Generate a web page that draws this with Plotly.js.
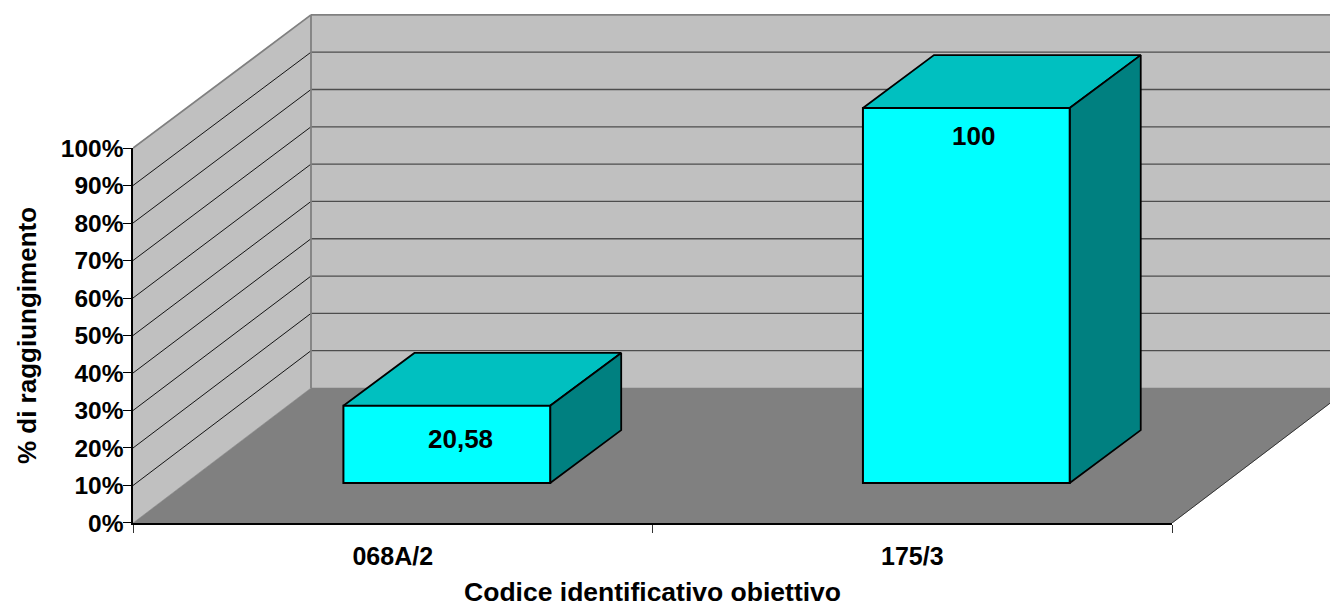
<!DOCTYPE html>
<html><head><meta charset="utf-8">
<script src="https://cdn.plot.ly/plotly-3.0.1.min.js"></script>
<style>html,body{margin:0;padding:0;background:#fff;overflow:hidden}#chart{width:1330px;height:607px}</style>
</head><body><div id="chart"></div>
<script>
// Data
var categories = ['068A/2', '175/3'];
var values = [20.58, 100];
var valueLabels = ['20,58', '100'];
var percentTicks = [0, 10, 20, 30, 40, 50, 60, 70, 80, 90, 100];
var percentTickLabels = ['0%', '10%', '20%', '30%', '40%', '50%', '60%', '70%', '80%', '90%', '100%'];
var xTitle = 'Codice identificativo obiettivo';
var yTitle = '% di raggiungimento';

// Oblique projection, in axis units
var X_MAX = 2.304, Y_MAX = 139.47;
var DEPTH_X = 0.3426, DEPTH_Y = 36, BACK_SCALE = 0.995;
var BAR_WIDTH = 0.398, BAR_SHIFT = 0.104, BAR_BASE = 10.67;
var BAR_DEPTH_X = 0.1367, BAR_DEPTH_Y = 14.1;
var LABEL_DX = [0.026, 0.0145], LABEL_DY = [8.8, 7.4];
var FONT = 'Liberation Sans, Arial, sans-serif';

function poly(xs, ys, fill, line, width) {
  return {type: 'scatter', mode: 'lines', x: xs.concat(xs[0]), y: ys.concat(ys[0]), fill: 'toself', fillcolor: fill,
    line: {color: line || fill, width: width === undefined ? 0.5 : width}, hoverinfo: 'skip', showlegend: false};
}
function lines(segments, color, width) {
  var xs = [], ys = [];
  segments.forEach(function (s) { xs.push(s[0], s[2], null); ys.push(s[1], s[3], null); });
  return {type: 'scatter', mode: 'lines', x: xs, y: ys, line: {color: color, width: width}, hoverinfo: 'skip', showlegend: false};
}
var backFar = X_MAX + 1;
var backTop = 100 * BACK_SCALE + DEPTH_Y;
var traces = [
  poly([DEPTH_X, backFar, backFar, DEPTH_X], [DEPTH_Y, DEPTH_Y, backTop, backTop], '#C0C0C0'),
  poly([0, DEPTH_X, DEPTH_X, 0], [0, DEPTH_Y, backTop, 100], '#C0C0C0'),
  poly([0, 2, 2 + DEPTH_X, DEPTH_X], [0, 0, DEPTH_Y, DEPTH_Y], '#808080')
];
var inner = percentTicks.filter(function (t) { return t > 0 && t < 100; });
traces.push(lines(inner.map(function (t) { return [0, t, DEPTH_X, t * BACK_SCALE + DEPTH_Y]; }), '#000000', 0.9));
traces.push(lines(inner.map(function (t) { return [DEPTH_X, t * BACK_SCALE + DEPTH_Y, backFar, t * BACK_SCALE + DEPTH_Y]; }), '#4d4d4d', 1.3));
traces.push(lines([[0, 100, DEPTH_X, backTop], [DEPTH_X, backTop, backFar, backTop], [DEPTH_X, DEPTH_Y, DEPTH_X, backTop]], '#808080', 1.8));
traces.push(lines([[2, 0, 2 + DEPTH_X, DEPTH_Y]], '#333333', 1));

// Top and side faces of each bar, from its value
categories.forEach(function (c, i) {
  var left = i + 0.5 + BAR_SHIFT - BAR_WIDTH / 2, right = left + BAR_WIDTH;
  var top = BAR_BASE + values[i];
  traces.push(poly([left, right, right + BAR_DEPTH_X, left + BAR_DEPTH_X],
    [top, top, top + BAR_DEPTH_Y, top + BAR_DEPTH_Y], '#00C0C0', '#000000', 1.8));
  traces.push(poly([right, right + BAR_DEPTH_X, right + BAR_DEPTH_X, right],
    [BAR_BASE, BAR_BASE + BAR_DEPTH_Y, top + BAR_DEPTH_Y, top], '#008080', '#000000', 1.8));
});

// Front faces: real bars on the category axis, against the tall hidden value axis
traces.push({type: 'bar', x: categories, y: values, base: categories.map(function () { return BAR_BASE; }),
  xaxis: 'x2', yaxis: 'y', width: BAR_WIDTH, offset: BAR_SHIFT - BAR_WIDTH / 2,
  marker: {color: '#00FFFF', line: {color: '#000000', width: 2}}, hoverinfo: 'skip', showlegend: false});
// Keeps the visible percent axis bound to the data
traces.push({type: 'scatter', mode: 'none', x: categories, y: values, xaxis: 'x2', yaxis: 'y2', hoverinfo: 'skip', showlegend: false});

var annotations = categories.map(function (c, i) {
  return {xref: 'x', yref: 'y', x: i + 0.5 + BAR_SHIFT + LABEL_DX[i], y: BAR_BASE + values[i] - LABEL_DY[i],
    text: '<b>' + valueLabels[i] + '</b>', showarrow: false, font: {family: FONT, size: 26, color: '#000'}};
});

var layout = {
  width: 1330, height: 607, margin: {l: 133, r: 0, t: 0, b: 84, pad: 0},
  paper_bgcolor: '#fff', plot_bgcolor: 'rgba(0,0,0,0)', showlegend: false, hovermode: false,
  xaxis: {type: 'linear', range: [0, X_MAX], visible: false, domain: [0, 1], anchor: 'y', fixedrange: true},
  yaxis: {type: 'linear', range: [0, Y_MAX], visible: false, domain: [0, 1], anchor: 'x', fixedrange: true},
  xaxis2: {type: 'category', categories: categories, categoryorder: 'array', categoryarray: categories,
    domain: [0, 2 / X_MAX], anchor: 'y2', side: 'bottom', range: [-0.5, 1.5], tickson: 'boundaries',
    ticks: 'outside', ticklen: 8, tickcolor: '#333', tickwidth: 1, showgrid: false, zeroline: false,
    showline: true, linecolor: '#000', linewidth: 1.6, automargin: 'right',
    tickfont: {family: FONT, size: 25, color: '#000', weight: 700}, ticklabelstandoff: 10,
    title: {text: xTitle, font: {family: FONT, size: 26.5, color: '#000', weight: 700}, standoff: 18}, fixedrange: true},
  yaxis2: {type: 'linear', range: [0, 100], domain: [0, 100 / Y_MAX], anchor: 'x2', tickmode: 'array', tickvals: percentTicks, ticktext: percentTickLabels,
    ticks: 'outside', ticklen: 8, tickcolor: '#000', tickwidth: 1, showgrid: false, zeroline: false,
    showline: true, linecolor: '#000', linewidth: 1.6, automargin: 'right', ticklabelstandoff: -5,
    tickfont: {family: FONT, size: 24.5, color: '#000', weight: 700},
    title: {text: yTitle, font: {family: FONT, size: 26, color: '#000', weight: 700}, standoff: 17}, fixedrange: true},
  annotations: annotations
};
Plotly.newPlot('chart', traces, layout, {displayModeBar: false, staticPlot: true});
</script></body></html>
